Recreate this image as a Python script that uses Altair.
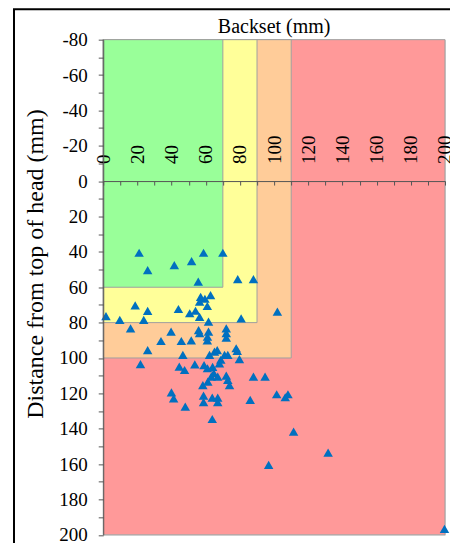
import altair as alt
import pandas as pd

# Measured points: backset (mm) and distance from top of head (mm)
backset = [21, 26, 41.6, 51.7, 58.7, 70, 55.6, 78.7, 87.9, 57, 62.8, 59.5, 56.4, 60.9,
           1.6, 9.7, 18.7, 23.7, 26, 16, 44, 50.6, 54, 56.4, 61.6, 80.7, 101.9,
           55.8, 56.4, 61.6, 72, 72, 72, 39.7, 33.8, 45.7, 51.5, 61, 60.9,
           26, 46.6, 62.2, 65.1, 66.7, 68.8, 71, 72.9, 77.8, 78.4, 79.7,
           21.8, 44.5, 47.6, 53.6, 59, 61, 64, 68, 63.2, 64.7, 67, 72, 72.9,
           58.3, 61.2, 73.9, 87.9, 94.7, 39.9, 41.2, 48, 58.7, 58.7, 63.8, 67, 67,
           63.8, 86, 101.5, 106.5, 108.1, 111.4, 96.8, 131.6, 199.7]
distance = [40.5, 50.3, 47.5, 45.2, 40.5, 40.5, 56.8, 55.4, 55.4, 65.4, 64.4, 66.5, 68.2, 70.6,
            76.3, 78.5, 70.2, 78.5, 73.4, 83.2, 72.3, 74.7, 73.3, 76.7, 79.5, 77.6, 73.8,
            84.2, 86, 85.1, 83.2, 86, 88.5, 85.1, 90.4, 90.4, 90, 88, 90,
            95.5, 98.3, 98.3, 96.4, 95.5, 101, 98.3, 98.3, 94.5, 96, 100.7,
            103.5, 104.9, 106.8, 103.6, 104, 105.8, 105, 103, 110.5, 108.6, 110.5, 110, 112.4,
            115.3, 113.4, 115.3, 110.5, 110.5, 119.4, 122.8, 127.5, 121.3, 125, 122.4, 122.4, 125,
            134.5, 123.7, 120.5, 122.2, 120.5, 141.6, 160.5, 153.5, 196.6]

# Rating zones (drawn back to front)
zone_names = ["poor", "marginal", "acceptable", "good"]
zone_x_end = [200, 110, 90, 70]
zone_y_end = [200, 100, 80, 60]
zone_colors = ["#FF9999", "#FFCC99", "#FFFF99", "#99FF99"]

x_ticks = list(range(0, 201, 10))
y_ticks = list(range(-80, 201, 10))

x_title = "Backset (mm)"
y_title = "Distance from top of head (mm)"

points = pd.DataFrame({"backset": backset, "distance": distance})
zones = pd.DataFrame({
    "zone": zone_names,
    "x0": [0] * 4,
    "x1": zone_x_end,
    "y0": [-80] * 4,
    "y1": zone_y_end,
})

FONT = "Liberation Serif"

xscale = alt.Scale(domain=[0, 200], nice=False, zero=False)
yscale = alt.Scale(domain=[-80, 200], nice=False, zero=False, reverse=True)

xaxis = alt.Axis(
    orient="bottom", offset=-354, values=x_ticks, zindex=1,
    labelExpr="datum.value % 20 == 0 ? '' + datum.value : ''",
    labelAngle=-90, labelAlign="left", labelBaseline="middle",
    labelPadding=-21.5, tickSize=4, tickColor="#555555", domainColor="#555555",
    labelFont=FONT, labelFontSize=19, labelColor="black",
    labelFlush=False, labelOverlap=False, grid=False, title=None,
)
yaxis = alt.Axis(
    values=y_ticks, zindex=1,
    labelExpr="datum.value % 20 == 0 ? '' + datum.value : ''",
    tickSize=5, labelPadding=11, tickColor="#555555", domainColor="#555555",
    labelFont=FONT, labelFontSize=19, labelColor="black",
    labelFlush=False, labelOverlap=False, grid=False,
    title=y_title, titleFont=FONT, titleFontSize=24,
    titleFontWeight="normal", titleColor="black", titleAngle=-90,
    titleAlign="center", titleBaseline="middle", titleX=-68, titleY=224,
)

rects = alt.Chart(zones).mark_rect(stroke="#A0A0A0", strokeWidth=1, opacity=1).encode(
    x=alt.X("x0:Q", scale=xscale, axis=xaxis),
    x2="x1:Q",
    y=alt.Y("y0:Q", scale=yscale, axis=yaxis),
    y2="y1:Q",
    color=alt.Color("zone:N", scale=alt.Scale(domain=zone_names, range=zone_colors), legend=None),
)

pts = alt.Chart(points).mark_point(
    shape="triangle-up", filled=True, size=90, color="#0070C0", opacity=1
).encode(
    x=alt.X("backset:Q", scale=xscale, axis=xaxis),
    y=alt.Y("distance:Q", scale=yscale, axis=yaxis),
)

title_mark = alt.Chart(pd.DataFrame({"t": [x_title]})).mark_text(
    font=FONT, fontSize=20, color="black", align="center", baseline="alphabetic"
).encode(
    text="t:N", x=alt.value(171), y=alt.value(-6.5)
)

frame = alt.Chart(pd.DataFrame({"a": [0]})).mark_rect(
    filled=False, stroke="black", strokeWidth=2
).encode(
    x=alt.value(-89.3), x2=alt.value(420), y=alt.value(-30.5), y2=alt.value(600)
)

chart = alt.layer(rects, pts, title_mark, frame).properties(
    width=342, height=495.5,
    padding={"left": 95.3, "top": 31.5, "right": 5, "bottom": 8},
    autosize=alt.AutoSizeParams(type="none"),
).configure_view(stroke=None).configure(background="white")

chart.save("out.html", embed_options={"renderer": "svg", "actions": False})
